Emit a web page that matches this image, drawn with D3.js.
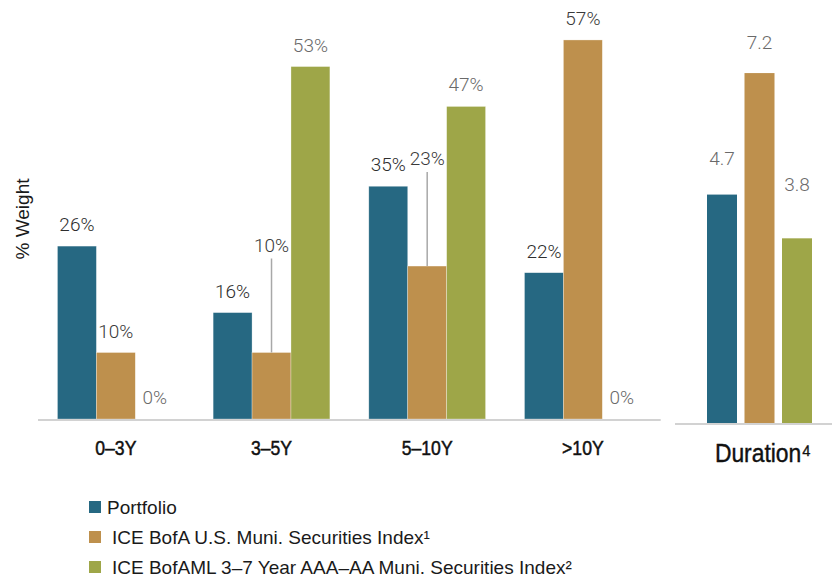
<!DOCTYPE html>
<html lang="en">
    <head>
        <meta charset="UTF-8">
        <title>Maturity and Duration</title>
        <style>
            body { margin: 0; background: #fff; }
            text { font-family: "Liberation Sans", Arial, sans-serif; }
        </style>
    </head>
    <body>
        <div id="my_dataviz"></div>
        <script src="https://d3js.org/d3.v7.min.js"></script>
        <script>
            // data
            var categories = ["0\u20133Y", "3\u20135Y", "5\u201310Y", ">10Y"]
            var seriesNames = ["Portfolio", "ICE BofA U.S. Muni. Securities Index\u00b9", "ICE BofAML 3\u20137 Year AAA\u2013AA Muni. Securities Index\u00b2"]
            var portfolio = [26, 16, 35, 22]
            var muniIndex = [10, 10, 23, 57]
            var aaaIndex = [0, 53, 47, 0]
            var durationLabel = "Duration\u2074"
            var duration = [4.7, 7.2, 3.8]
            // labels that sit high with a leader line down to the bar
            var leaderLabels = ["3\u20135Y:1", "5\u201310Y:1"]

            var colors = ["#266882", "#be904d", "#9ea648"]
            var labelColors = ["#2e2e2e", "#3a3a3a", "#6a6a6a"]

            var width = 832, height = 578

            var svg = d3.select("#my_dataviz")
                .append("svg")
                .attr("width", width)
                .attr("height", height)

            // main chart scales
            var x0 = d3.scaleBand()
                .domain(categories)
                .range([38, 660.7])
                .paddingInner(0.25)
                .paddingOuter(0.125)
            var x1 = d3.scaleBand()
                .domain([0, 1, 2])
                .range([0, x0.bandwidth()])
            var y = d3.scaleLinear()
                .domain([0, 60])
                .range([419, 20])

            var seriesValues = [portfolio, muniIndex, aaaIndex]
            var data = []
            categories.forEach(function (c, i) {
                seriesValues.forEach(function (vals, s) {
                    data.push({ cat: c, s: s, value: vals[i] })
                })
            })

            // bars
            svg.append("g").selectAll("rect")
                .data(data.filter(function (d) { return d.value > 0 }))
                .enter()
                .append("rect")
                .attr("x", function (d) { return x0(d.cat) + x1(d.s) })
                .attr("y", function (d) { return y(d.value) })
                .attr("width", x1.bandwidth())
                .attr("height", function (d) { return y(0) - y(d.value) })
                .style("fill", function (d) { return colors[d.s] })
                .style("stroke", "rgba(255,255,255,0.5)")
                .style("stroke-width", 0.6)

            // baseline
            svg.append("line")
                .attr("x1", x0.range()[0]).attr("x2", x0.range()[1])
                .attr("y1", y(0) + 1).attr("y2", y(0) + 1)
                .style("stroke", "#d2d2d2")
                .style("stroke-width", 2)

            // value labels
            var isLeader = function (d) { return leaderLabels.indexOf(d.cat + ":" + d.s) >= 0 }
            svg.append("g").selectAll("line")
                .data(data.filter(isLeader))
                .enter()
                .append("line")
                .attr("x1", function (d) { return x0(d.cat) + x1(d.s) + x1.bandwidth() / 2 })
                .attr("x2", function (d) { return x0(d.cat) + x1(d.s) + x1.bandwidth() / 2 })
                .attr("y1", function (d) { return y(d.value) - 94 })
                .attr("y2", function (d) { return y(d.value) })
                .style("stroke", "#a8a8a8")
                .style("stroke-width", 1.5)

            svg.append("g").selectAll("text")
                .data(data)
                .enter()
                .append("text")
                .attr("x", function (d) { return x0(d.cat) + x1(d.s) + x1.bandwidth() / 2 })
                .attr("y", function (d) { return y(d.value) - (isLeader(d) ? 101 : 15) })
                .attr("text-anchor", "middle")
                .style("font-family", "Roboto, sans-serif")
                .style("font-weight", 300)
                .style("font-size", "19px")
                .style("fill", function (d) { return labelColors[d.s] })
                .text(function (d) { return d.value + "%" })

            // category labels (squeezed a bit to look condensed)
            svg.append("g").selectAll("text")
                .data(categories)
                .enter()
                .append("text")
                .attr("transform", function (d) { return "translate(" + (x0(d) + x0.bandwidth() / 2) + ",455) scale(0.84,1)" })
                .attr("text-anchor", "middle")
                .style("font-size", "21px")
                .style("fill", "#111")
                .style("stroke", "#111")
                .style("stroke-width", 0.5)
                .text(function (d) { return d })

            // y title
            svg.append("text")
                .attr("transform", "translate(29,219) rotate(-90)")
                .attr("text-anchor", "middle")
                .style("font-size", "19px")
                .style("fill", "#1a1a1a")
                .text("% Weight")

            // duration panel
            var xd = d3.scaleBand()
                .domain([0, 1, 2])
                .range([707, 812])
                .paddingInner(0.2)
                .paddingOuter(0)
            var yd = d3.scaleLinear()
                .domain([0, 8])
                .range([423, 34.2])
            var durLift = [30, 24, 47]

            svg.append("g").selectAll("rect")
                .data(duration)
                .enter()
                .append("rect")
                .attr("x", function (d, i) { return xd(i) })
                .attr("y", function (d) { return yd(d) })
                .attr("width", xd.bandwidth())
                .attr("height", function (d) { return yd(0) - yd(d) })
                .style("fill", function (d, i) { return colors[i] })

            svg.append("line")
                .attr("x1", 675).attr("x2", 832)
                .attr("y1", yd(0) + 1).attr("y2", yd(0) + 1)
                .style("stroke", "#d2d2d2")
                .style("stroke-width", 2)

            svg.append("g").selectAll("text")
                .data(duration)
                .enter()
                .append("text")
                .attr("x", function (d, i) { return xd(i) + xd.bandwidth() / 2 })
                .attr("y", function (d, i) { return yd(d) - durLift[i] })
                .attr("text-anchor", "middle")
                .style("font-family", "Roboto, sans-serif")
                .style("font-weight", 300)
                .style("font-size", "19px")
                .style("fill", "#6a6a6a")
                .text(function (d) { return d.toFixed(1) })

            svg.append("text")
                .attr("transform", "translate(763,462) scale(0.88,1)")
                .attr("text-anchor", "middle")
                .style("font-size", "26px")
                .style("fill", "#111")
                .style("stroke", "#111")
                .style("stroke-width", 0.4)
                .text(durationLabel)

            // legend
            var legend = svg.append("g").selectAll("g")
                .data(seriesNames)
                .enter()
                .append("g")
                .attr("transform", function (d, i) { return "translate(89," + (507 + i * 30) + ")" })
            legend.append("rect")
                .attr("x", 0).attr("y", -6)
                .attr("width", 12).attr("height", 12)
                .style("fill", function (d, i) { return colors[i] })
            legend.append("text")
                .attr("x", function (d, i) { return i == 0 ? 18 : 23 })
                .attr("y", 7)
                .style("font-size", "19px")
                .style("fill", "#1a1a1a")
                .text(function (d) { return d })
        </script>
    </body>
</html>
